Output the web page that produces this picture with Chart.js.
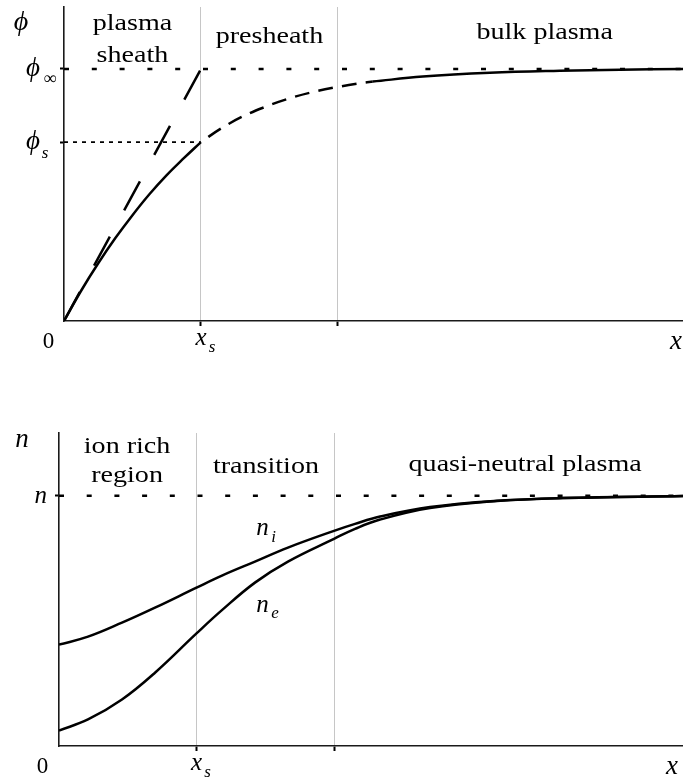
<!DOCTYPE html>
<html>
<head>
<meta charset="utf-8">
<script src="https://cdn.jsdelivr.net/npm/chart.js@4/dist/chart.umd.min.js"></script>
<style>
    html, body { margin: 0; padding: 0; background: #fff; }
    #wrap { position: relative; width: 683px; height: 780px; }
    canvas { position: absolute; left: 0; }
    #potential-chart { top: 0; }
    #density-chart { top: 390px; }
</style>
</head>
<body>
<div id="wrap">
    <canvas id="potential-chart" width="683" height="390"></canvas>
    <canvas id="density-chart" width="683" height="390"></canvas>
</div>
<script>
/*jshint esversion: 9 */

// sheath edge (x_s) and presheath edge, in units of x_s
const xs = 1;
const xPresheath = 2;
const boundaryTicks = [xs, xPresheath];

// potential profile: sheath (solid), presheath (dashed), bulk (solid)
const sheathX = [0, 0.125, 0.25, 0.375, 0.5, 0.625, 0.75, 0.875, 1];
const sheathPhi = [0, 0.12, 0.229, 0.329, 0.42, 0.504, 0.579, 0.646, 0.71];
const presheathX = [1, 1.15, 1.31, 1.48, 1.65, 1.82, 2.0, 2.18, 2.255];
const presheathPhi = [0.71, 0.765, 0.813, 0.852, 0.884, 0.909, 0.929, 0.945, 0.95];
const bulkX = [2.255, 2.62, 3.11, 3.62, 4.06, 4.52];
const bulkPhi = [0.95, 0.97, 0.985, 0.993, 0.997, 1];
const phiInf = 1;
const phiS = 0.71;
const potentialTicks = [phiS, phiInf];

// ion and electron densities
const densityX = [0, 0.211, 0.458, 0.698, 1.0, 1.185, 1.425, 1.665, 2.0, 2.153, 2.335, 2.698, 3.185, 3.665, 4.538];
const ionDensity = [0.405, 0.437, 0.493, 0.553, 0.633, 0.681, 0.737, 0.793, 0.86, 0.888, 0.917, 0.955, 0.98, 0.991, 0.999];
const electronDensity = [0.062, 0.106, 0.186, 0.293, 0.45, 0.543, 0.653, 0.737, 0.828, 0.868, 0.905, 0.951, 0.979, 0.991, 0.999];
const nBulk = 1;
const densityTicks = [nBulk];


const serif = '"Liberation Serif", "DejaVu Serif", serif';

const toPoints = (xList, yList) => xList.map((x, i) => ({ x: x, y: yList[i] }));

const curve = (data, extra) => ({
    data: data,
    borderColor: '#000',
    borderWidth: 2.5,
    pointRadius: 0,
    fill: false,
    tension: 0.4,
    ...extra,
});

const straight = (data, extra) => curve(data, { tension: 0, ...extra });

const drawText = (ctx, text, x, y, opts = {}) => {
    const size = opts.size || 24;
    ctx.save();
    ctx.font = (opts.italic ? 'italic ' : '') + size + 'px ' + serif;
    ctx.textAlign = opts.align || 'center';
    ctx.textBaseline = 'alphabetic';
    ctx.fillStyle = '#000';
    ctx.translate(x, y);
    ctx.scale(opts.stretch || 1, 1);
    ctx.fillText(text, 0, 0);
    ctx.restore();
};

const word = (ctx, text, x, y) => drawText(ctx, text, x, y, { stretch: 1.17 });

const axes = (xMax, yMax, yTicks) => ({
    x: {
        type: 'linear',
        min: 0,
        max: xMax,
        afterBuildTicks: scale => { scale.ticks = boundaryTicks.map(v => ({ value: v })); },
        afterFit: scale => { scale.height = 0; },
        ticks: { display: false },
        grid: { color: '#c6c6c6', lineWidth: 1, tickColor: '#000', tickWidth: 2, tickLength: 5 },
        border: { color: '#1a1a1a', width: 1.6 },
    },
    y: {
        type: 'linear',
        min: 0,
        max: yMax,
        afterBuildTicks: scale => { scale.ticks = yTicks.map(v => ({ value: v })); },
        afterFit: scale => { scale.width = 0; },
        ticks: { display: false },
        grid: { drawOnChartArea: false, tickColor: '#000', tickWidth: 2, tickLength: 4 },
        border: { color: '#1a1a1a', width: 1.6 },
    },
});

const baseOptions = (padding, scales) => ({
    responsive: false,
    animation: false,
    devicePixelRatio: 1,
    layout: { padding: padding },
    plugins: { legend: { display: false }, tooltip: { enabled: false } },
    scales: scales,
});


const render = {
    all: () => {
        render.potential();
        render.density();
    },

    potential: () => {
        const labels = {
            id: 'potential_labels',
            afterDraw: chart => {
                const ctx = chart.ctx;
                const x = chart.scales.x;

                word(ctx, 'plasma', x.getPixelForValue(0.5), 30);
                word(ctx, 'sheath', x.getPixelForValue(0.5), 62);
                word(ctx, 'presheath', x.getPixelForValue(1.5), 43);
                word(ctx, 'bulk plasma', x.getPixelForValue(3.51), 39);

                drawText(ctx, 'ϕ', 21, 30, { italic: true, size: 28 });
                drawText(ctx, 'ϕ', 33, 76, { italic: true, size: 27 });
                drawText(ctx, '∞', 50, 84, { size: 18 });
                drawText(ctx, 'ϕ', 33, 149, { italic: true, size: 27 });
                drawText(ctx, 's', 45, 158, { italic: true, size: 17 });

                drawText(ctx, '0', 48.5, 348, { size: 23 });
                drawText(ctx, 'x', x.getPixelForValue(xs), 345, { italic: true, size: 25 });
                drawText(ctx, 's', x.getPixelForValue(xs) + 11, 352, { italic: true, size: 17 });
                drawText(ctx, 'x', 676, 349, { italic: true, size: 27 });
            },
        };

        const config = {
            type: 'line',
            data: {
                datasets: [
                    // reference levels
                    straight([{ x: 0, y: phiInf }, { x: 4.52, y: phiInf }], { borderDash: [5, 22.8] }),
                    straight([{ x: 0, y: phiS }, { x: xs, y: phiS }], { borderWidth: 1.8, borderDash: [4, 5] }),
                    // linear sheath estimate
                    straight([{ x: 0, y: 0 }, { x: xs, y: phiInf }], { borderDash: [33, 30] }),
                    curve(toPoints(sheathX, sheathPhi)),
                    curve(toPoints(presheathX, presheathPhi), { borderDash: [15, 9], borderDashOffset: 15 }),
                    curve(toPoints(bulkX, bulkPhi)),
                ],
            },
            options: baseOptions({ left: 64, right: 0, top: 7, bottom: 69 }, axes(4.52, 1.246, potentialTicks)),
            plugins: [labels],
        };

        new Chart(document.getElementById('potential-chart'), config);
    },

    density: () => {
        const labels = {
            id: 'density_labels',
            afterDraw: chart => {
                const ctx = chart.ctx;
                const x = chart.scales.x;

                word(ctx, 'ion rich', x.getPixelForValue(0.495), 63);
                word(ctx, 'region', x.getPixelForValue(0.495), 92);
                word(ctx, 'transition', x.getPixelForValue(1.505), 83);
                word(ctx, 'quasi-neutral plasma', x.getPixelForValue(3.39), 81);

                drawText(ctx, 'n', 22, 57, { italic: true, size: 27 });
                drawText(ctx, 'n', 47, 113, { italic: true, size: 25, align: 'right' });

                drawText(ctx, 'n', 262.5, 145, { italic: true, size: 25 });
                drawText(ctx, 'i', 273.5, 152, { italic: true, size: 17 });
                drawText(ctx, 'n', 262.5, 222, { italic: true, size: 25 });
                drawText(ctx, 'e', 275, 228, { italic: true, size: 17 });

                drawText(ctx, '0', 42.5, 383, { size: 23 });
                drawText(ctx, 'x', x.getPixelForValue(xs), 380, { italic: true, size: 25 });
                drawText(ctx, 's', x.getPixelForValue(xs) + 11, 387, { italic: true, size: 17 });
                drawText(ctx, 'x', 672, 384, { italic: true, size: 27 });
            },
        };

        const config = {
            type: 'line',
            data: {
                datasets: [
                    straight([{ x: 0, y: nBulk }, { x: 4.538, y: nBulk }], { borderDash: [5, 22.7] }),
                    curve(toPoints(densityX, ionDensity)),
                    curve(toPoints(densityX, electronDensity)),
                ],
            },
            options: baseOptions({ left: 59, right: 0, top: 43, bottom: 34 }, axes(4.538, 1.251, densityTicks)),
            plugins: [labels],
        };

        new Chart(document.getElementById('density-chart'), config);
    },
};


render.all();
</script>
</body>
</html>
